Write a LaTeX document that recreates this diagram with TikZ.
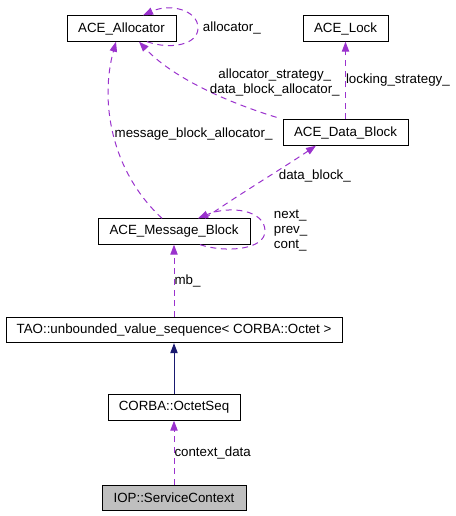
\documentclass[tikz,border=0pt]{standalone}
\usepackage{fontspec}
\setmainfont{Liberation Sans}
\usetikzlibrary{arrows.meta,calc}
\definecolor{usecolor}{HTML}{9A32CD}
\definecolor{basecolor}{HTML}{191970}
\begin{document}
\begin{tikzpicture}[x=0.75pt,y=-0.75pt,
                font=\fontsize{10}{11.25}\selectfont,
                cls/.style={draw=black,line width=0.75pt,minimum height=19pt,inner sep=0pt},
                uses/.style={draw=usecolor,line width=0.75pt,dash pattern=on 4.5pt off 3.5pt,-{Triangle[length=7.5pt,width=5.5pt]}},
                inherits/.style={draw=basecolor,line width=0.75pt,-{Triangle[length=7.5pt,width=5.5pt]}}]
                \useasboundingbox (0,0) rectangle (455,516);
                \node[cls,minimum width=81.75pt] (alloc)   at (121.5,28.5) {ACE\_Allocator};
                \node[cls,minimum width=63.75pt] (lock)    at (345.5,28.5) {ACE\_Lock};
                \node[cls,minimum width=93.75pt] (datablk) at (345.5,132.5) {ACE\_Data\_Block};
                \node[cls,minimum width=114pt]   (msgblk)  at (174,231.5) {ACE\_Message\_Block};
                \node[cls,minimum width=252pt]   (seq)     at (174,330) {TAO::unbounded\_value\_sequence< CORBA::Octet >};
                \node[cls,minimum width=99pt]    (octseq)  at (174,407.5) {CORBA::OctetSeq};
                \node[cls,fill=gray!50,minimum width=108pt] (svcctx) at (174,498) {IOP::ServiceContext};
                \draw[uses] ($(alloc.south)+(25.5,0)$) .. controls (170,50) and (198,45) .. (198,28) node[right] {allocator\_} .. controls (198,10) and (170,3) .. ($(alloc.north)+(21.5,0)$);
                \draw[uses] (datablk.north) -- node[pos=0.5,right,inner sep=0pt] {locking\_strategy\_} (lock.south);
                \draw[uses] ($(datablk.north west)+(-6,-2)$) .. controls (220,100) and (170,75) .. node[pos=0.42,anchor=south west,align=center,xshift=-3.5pt,yshift=-7pt] {allocator\_strategy\_\\data\_block\_allocator\_} ($(alloc.south)+(17.5,0)$);
                \draw[uses] ($(msgblk.north)+(-12,0)$) .. controls (110,170) and (100,100) .. node[pos=0.5,anchor=west,inner sep=0.5pt] {message\_block\_allocator\_} ($(alloc.south)+(-5.5,0)$);
                \draw[uses] ($(msgblk.north)+(31,0)$) .. controls (230,200) and (280,170) .. node[pos=0.6,anchor=west,xshift=4pt] {data\_block\_} ($(datablk.south)+(-29.5,0)$);
                \draw[uses] ($(msgblk.south)+(26,0)$) .. controls (225,253) and (265,250) .. (265,231) node[right,align=left,xshift=3pt] {next\_\\prev\_\\cont\_} .. controls (265,210) and (230,205) .. ($(msgblk.north)+(24,0)$);
                \draw[uses] (seq.north) -- node[pos=0.5,right,inner sep=0pt] {mb\_} (msgblk.south);
                \draw[inherits] (octseq.north) -- (seq.south);
                \draw[uses] (svcctx.north) -- node[pos=0.5,right,inner sep=0pt] {context\_data} (octseq.south);
            \end{tikzpicture}
\end{document}
